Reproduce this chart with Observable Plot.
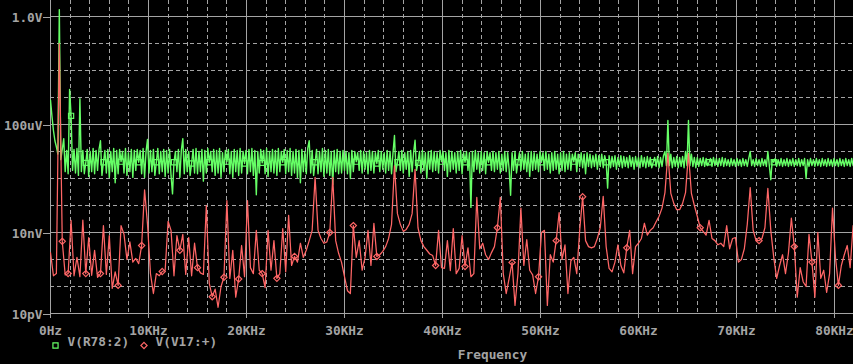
<!DOCTYPE html>
<html><head><meta charset="utf-8">
<script src="https://cdn.jsdelivr.net/npm/d3@7"></script>
<script src="https://cdn.jsdelivr.net/npm/@observablehq/plot@0.6"></script>
<style>
html,body{margin:0;padding:0;background:#000;overflow:hidden}
svg{display:block}
</style></head><body><div id="chart"></div>
<script>
// FFT bins of V(R78:2) (kHz)
const freqR78 = [
0,0.15,0.3,0.45,0.6,0.75,0.9,1.05,1.2,1.35,1.5,1.65,1.8,1.95,2.1,2.25,2.4,2.55,2.7,2.85,
3,3.15,3.3,3.45,3.6,3.75,3.9,4.05,4.2,4.35,4.5,4.65,4.8,4.95,5.1,5.25,5.4,5.55,5.7,5.85,
6,6.15,6.3,6.45,6.6,6.75,6.9,7.05,7.2,7.35,7.5,7.65,7.8,7.95,8.1,8.25,8.4,8.55,8.7,8.85,
9,9.15,9.3,9.45,9.6,9.75,9.9,10.05,10.2,10.35,10.5,10.65,10.8,10.95,11.1,11.25,11.4,11.55,11.7,11.85,
12,12.15,12.3,12.45,12.6,12.75,12.9,13.05,13.2,13.35,13.5,13.65,13.8,13.95,14.1,14.25,14.4,14.55,14.7,14.85,
15,15.15,15.3,15.45,15.6,15.75,15.9,16.05,16.2,16.35,16.5,16.65,16.8,16.95,17.1,17.25,17.4,17.55,17.7,17.85,
18,18.15,18.3,18.45,18.6,18.75,18.9,19.05,19.2,19.35,19.5,19.65,19.8,19.95,20.1,20.25,20.4,20.55,20.7,20.85,
21,21.15,21.3,21.45,21.6,21.75,21.9,22.05,22.2,22.35,22.5,22.65,22.8,22.95,23.1,23.25,23.4,23.55,23.7,23.85,
24,24.15,24.3,24.45,24.6,24.75,24.9,25.05,25.2,25.35,25.5,25.65,25.8,25.95,26.1,26.25,26.4,26.55,26.7,26.85,
27,27.15,27.3,27.45,27.6,27.75,27.9,28.05,28.2,28.35,28.5,28.65,28.8,28.95,29.1,29.25,29.4,29.55,29.7,29.85,
30,30.15,30.3,30.45,30.6,30.75,30.9,31.05,31.2,31.35,31.5,31.65,31.8,31.95,32.1,32.25,32.4,32.55,32.7,32.85,
33,33.15,33.3,33.45,33.6,33.75,33.9,34.05,34.2,34.35,34.5,34.65,34.8,34.95,35.1,35.25,35.4,35.55,35.7,35.85,
36,36.15,36.3,36.45,36.6,36.75,36.9,37.05,37.2,37.35,37.5,37.65,37.8,37.95,38.1,38.25,38.4,38.55,38.7,38.85,
39,39.15,39.3,39.45,39.6,39.75,39.9,40.05,40.2,40.35,40.5,40.65,40.8,40.95,41.1,41.25,41.4,41.55,41.7,41.85,
42,42.15,42.3,42.45,42.6,42.75,42.9,43.05,43.2,43.35,43.5,43.65,43.8,43.95,44.1,44.25,44.4,44.55,44.7,44.85,
45,45.15,45.3,45.45,45.6,45.75,45.9,46.05,46.2,46.35,46.5,46.65,46.8,46.95,47.1,47.25,47.4,47.55,47.7,47.85,
48,48.15,48.3,48.45,48.6,48.75,48.9,49.05,49.2,49.35,49.5,49.65,49.8,49.95,50.1,50.25,50.4,50.55,50.7,50.85,
51,51.15,51.3,51.45,51.6,51.75,51.9,52.05,52.2,52.35,52.5,52.65,52.8,52.95,53.1,53.25,53.4,53.55,53.7,53.85,
54,54.15,54.3,54.45,54.6,54.75,54.9,55.05,55.2,55.35,55.5,55.65,55.8,55.95,56.1,56.25,56.4,56.55,56.7,56.85,
57,57.15,57.3,57.45,57.6,57.75,57.9,58.05,58.2,58.35,58.5,58.65,58.8,58.95,59.1,59.25,59.4,59.55,59.7,59.85,
60,60.15,60.3,60.45,60.6,60.75,60.9,61.05,61.2,61.35,61.5,61.65,61.8,61.95,62.1,62.25,62.4,62.55,62.7,62.85,
63,63.15,63.3,63.45,63.6,63.75,63.9,64.05,64.2,64.35,64.5,64.65,64.8,64.95,65.1,65.25,65.4,65.55,65.7,65.85,
66,66.15,66.3,66.45,66.6,66.75,66.9,67.05,67.2,67.35,67.5,67.65,67.8,67.95,68.1,68.25,68.4,68.55,68.7,68.85,
69,69.15,69.3,69.45,69.6,69.75,69.9,70.05,70.2,70.35,70.5,70.65,70.8,70.95,71.1,71.25,71.4,71.55,71.7,71.85,
72,72.15,72.3,72.45,72.6,72.75,72.9,73.05,73.2,73.35,73.5,73.65,73.8,73.95,74.1,74.25,74.4,74.55,74.7,74.85,
75,75.15,75.3,75.45,75.6,75.75,75.9,76.05,76.2,76.35,76.5,76.65,76.8,76.95,77.1,77.25,77.4,77.55,77.7,77.85,
78,78.15,78.3,78.45,78.6,78.75,78.9,79.05,79.2,79.35,79.5,79.65,79.8,79.95,80.1,80.25,80.4,80.55,80.7,80.85,
81,81.15,81.3,81.45,81.6,81.75,81.9];

// V(R78:2) in volts
const vR78 = [
8e-4,2e-4,6e-5,2.5e-5,1.5e-5,8e-6,1.8,5e-6,1.2e-5,3e-5,1.8e-6,1.1e-5,1.5e-6,2e-3,2.1e-4,2e-6,1.2e-5,1.6e-6,1.3e-5,1.3e-6,
9e-4,1.8e-6,1.1e-5,1.5e-6,3.8e-6,1.2e-5,1.2e-6,1e-5,1.8e-6,1.3e-5,1.5e-6,1.1e-5,2e-6,1.2e-5,2.5e-5,1.3e-6,4e-6,1.1e-5,1.6e-6,1.2e-5,
1.1e-6,1e-5,1.8e-6,1.3e-5,7e-7,1.1e-5,1.5e-6,1.2e-5,4.2e-6,1e-5,1.6e-6,1.3e-5,1.3e-6,9e-6,1.8e-6,1.2e-5,1.1e-6,1.1e-5,2e-6,1.2e-5,
4e-6,1.1e-5,1.5e-6,1.3e-5,1.1e-6,1e-5,2.8e-5,1.6e-6,1.1e-5,1.8e-6,1.2e-5,1.3e-6,4e-6,1.3e-5,1.5e-6,1e-5,1.8e-6,1.2e-5,1.2e-6,1.1e-5,
1.6e-6,1.2e-5,1.3e-6,2.7e-7,4e-6,1e-5,1.8e-6,1.2e-5,1.1e-6,1.1e-5,3e-5,1.5e-6,1.2e-5,1.8e-6,1e-5,1.3e-6,3.6e-6,1.2e-5,1.6e-6,1.3e-5,
1.5e-6,1e-5,1.8e-6,1.2e-5,8e-7,1.1e-5,1.6e-6,1.3e-5,4e-6,1e-5,1.8e-6,1.2e-5,1.3e-6,1.1e-5,1.6e-6,1.3e-5,1.1e-6,9e-6,1.8e-6,1.1e-5,
4.2e-6,1.2e-5,1.5e-6,1e-5,1.1e-6,1.2e-5,1.8e-6,1.1e-5,1.3e-6,1.3e-5,1.6e-6,1e-5,3.6e-6,1.1e-5,1.5e-6,1.2e-5,1.8e-6,1.3e-5,1.3e-6,1.1e-5,
2.5e-7,1e-5,1.6e-6,1.2e-5,3.8e-6,1.1e-5,1.5e-6,1.3e-5,1.2e-6,1e-5,1.8e-6,1.2e-5,1.6e-6,1.1e-5,1.3e-6,1.3e-5,1.8e-6,1e-5,4e-6,1.2e-5,
1.5e-6,1.1e-5,1.8e-6,1.3e-5,1.3e-6,1e-5,1.6e-6,1.2e-5,1.1e-6,1.1e-5,7e-7,1.2e-5,1.8e-6,1e-5,1.5e-6,1.3e-5,2.5e-5,1.6e-6,1.1e-5,1.3e-6,
4e-6,1.2e-5,1.5e-6,1e-5,1.8e-6,1.3e-5,1.2e-6,1.1e-5,1.6e-6,1.2e-5,1.3e-6,1e-5,6e-7,1.1e-5,1.8e-6,1.2e-5,1.5e-6,1e-5,1.6e-6,1.1e-5,
2e-6,1e-5,1.5e-6,9e-6,1e-6,1.1e-5,1.8e-6,1e-5,4.2e-6,9e-6,2e-6,1.1e-5,1.6e-6,1e-5,2.2e-6,9e-6,1.5e-6,1.1e-5,2e-6,1e-5,
1.6e-6,9e-6,3.6e-6,1.1e-5,1.8e-6,1e-5,2.2e-6,9e-6,1.6e-6,1.1e-5,2e-6,1e-5,1.5e-6,9e-6,3.9e-5,1.8e-6,4e-6,1e-5,2e-6,1.1e-5,
1.6e-6,9e-6,2.2e-6,1e-5,1.2e-6,1.1e-5,1.8e-6,9e-6,2.6e-5,2e-6,3.8e-6,1e-5,1.6e-6,1.1e-5,2e-6,9e-6,1e-6,1e-5,2.2e-6,1.1e-5,
1.8e-6,1e-5,2e-6,9e-6,1.6e-6,1.1e-5,4.2e-6,1e-5,2e-6,9e-6,1.2e-6,1.1e-5,1.8e-6,1e-5,2.2e-6,9e-6,1.6e-6,1e-5,2e-6,1.1e-5,
1.5e-6,9e-6,4e-6,1e-5,2e-6,9e-6,8.5e-8,1e-5,1.8e-6,1.1e-5,2.2e-6,9e-6,1.6e-6,1e-5,2e-6,9e-6,1.5e-6,1e-5,4e-6,9e-6,
2e-6,1e-5,1.8e-6,9e-6,2.2e-6,1e-5,1.6e-6,8e-6,2e-6,1e-5,1.8e-6,9e-6,2.2e-6,2.4e-7,9e-6,2e-6,1e-5,1.6e-6,4e-6,9e-6,
2e-6,1e-5,2.2e-6,8e-6,1.8e-6,9e-6,1.2e-6,1e-5,2e-6,9e-6,2.2e-6,8e-6,1.8e-6,1e-5,4e-6,9e-6,2e-6,1e-5,2.2e-6,8e-6,
1.6e-6,9e-6,2e-6,1e-5,2.2e-6,8e-6,1.5e-6,9e-6,2e-6,1e-5,1.8e-6,8e-6,2.2e-6,9e-6,2e-6,8e-6,4.2e-6,9e-6,1.8e-6,8e-6,
2.8e-6,9e-6,2.5e-6,8e-6,1.5e-6,9e-6,2.8e-6,8e-6,2.5e-6,7e-6,2.8e-6,8e-6,2.2e-6,7e-6,2.8e-6,8e-6,2.5e-6,7e-6,4e-6,4.4e-7,
7e-6,2.5e-6,6.5e-6,2.8e-6,7e-6,2.2e-6,6e-6,2.8e-6,7e-6,2.5e-6,6.5e-6,2.8e-6,6e-6,2.5e-6,7e-6,2.8e-6,6e-6,2.2e-6,6.5e-6,2.8e-6,
6e-6,2.5e-6,7e-6,2.8e-6,6e-6,2.5e-6,6.5e-6,2.8e-6,6e-6,2.5e-6,4e-6,6e-6,2.8e-6,6.5e-6,2.5e-6,6e-6,2.8e-6,7e-6,1e-5,3e-6,
1.4e-4,3e-6,8e-6,2.5e-6,6e-6,2.8e-6,6.5e-6,2.5e-6,6e-6,2.8e-6,6.5e-6,2.5e-6,1e-5,3e-6,1.4e-4,3e-6,8e-6,2.8e-6,6e-6,2.5e-6,
6e-6,2.8e-6,5.5e-6,3e-6,6e-6,2.8e-6,5.5e-6,3e-6,4e-6,5.5e-6,2.8e-6,6e-6,3e-6,5.5e-6,2.8e-6,5.5e-6,3e-6,6e-6,2.8e-6,5.5e-6,
3e-6,5e-6,2.8e-6,5.5e-6,3e-6,5e-6,2.8e-6,5.5e-6,3e-6,5e-6,2.8e-6,5.5e-6,3e-6,5e-6,2.8e-6,5.5e-6,1e-5,3e-6,5e-6,2.8e-6,
5.5e-6,3e-6,5e-6,2.8e-6,5.5e-6,3e-6,5e-6,2.8e-6,1e-5,3e-6,9e-7,5e-6,4e-6,5.5e-6,2.8e-6,5e-6,3e-6,5.5e-6,2.8e-6,5e-6,
3e-6,5.5e-6,2.8e-6,5e-6,3e-6,5.5e-6,2.8e-6,5e-6,3e-6,5.5e-6,2.8e-6,5e-6,3e-6,5.5e-6,1e-6,5e-6,2.8e-6,5.5e-6,3e-6,5e-6,
2.8e-6,5.5e-6,3e-6,5e-6,2.8e-6,5.5e-6,3e-6,5e-6,2.8e-6,5.5e-6,3e-6,5e-6,2.8e-6,5.5e-6,3e-6,5e-6,2.8e-6,5.5e-6,3e-6,5e-6,
2.8e-6,5.5e-6,3e-6,5e-6,2.8e-6,5.5e-6,3e-6];

// FFT bins of V(V17:+) (kHz)
const freqV17 = [
0,0.3,0.6,0.9,1.2,1.5,1.8,2.1,2.4,2.7,
3,3.3,3.6,3.9,4.2,4.5,4.8,5.1,5.4,5.7,
6,6.3,6.6,6.9,7.2,7.5,7.8,8.1,8.4,8.7,
9,9.3,9.6,9.9,10.2,10.5,10.8,11.1,11.4,11.7,
12,12.3,12.6,12.9,13.2,13.5,13.8,14.1,14.4,14.7,
15,15.3,15.6,15.9,16.2,16.5,16.8,17.1,17.4,17.7,
18,18.3,18.6,18.9,19.2,19.5,19.8,20.1,20.4,20.7,
21,21.3,21.6,21.9,22.2,22.5,22.8,23.1,23.4,23.7,
24,24.3,24.6,24.9,25.2,25.5,25.8,26.1,26.4,26.7,
27,27.3,27.6,27.9,28.2,28.5,28.8,29.1,29.4,29.7,
30,30.3,30.6,30.9,31.2,31.5,31.8,32.1,32.4,32.7,
33,33.3,33.6,33.9,34.2,34.5,34.8,35.1,35.4,35.7,
36,36.3,36.6,36.9,37.2,37.5,37.8,38.1,38.4,38.7,
39,39.3,39.6,39.9,40.2,40.5,40.8,41.1,41.4,41.7,
42,42.3,42.6,42.9,43.2,43.5,43.8,44.1,44.4,44.7,
45,45.3,45.6,45.9,46.2,46.5,46.8,47.1,47.4,47.7,
48,48.3,48.6,48.9,49.2,49.5,49.8,50.1,50.4,50.7,
51,51.3,51.6,51.9,52.2,52.5,52.8,53.1,53.4,53.7,
54,54.3,54.6,54.9,55.2,55.5,55.8,56.1,56.4,56.7,
57,57.3,57.6,57.9,58.2,58.5,58.8,59.1,59.4,59.7,
60,60.3,60.6,60.9,61.2,61.5,61.8,62.1,62.4,62.7,
63,63.3,63.6,63.9,64.2,64.5,64.8,65.1,65.4,65.7,
66,66.3,66.6,66.9,67.2,67.5,67.8,68.1,68.4,68.7,
69,69.3,69.6,69.9,70.2,70.5,70.8,71.1,71.4,71.7,
72,72.3,72.6,72.9,73.2,73.5,73.8,74.1,74.4,74.7,
75,75.3,75.6,75.9,76.2,76.5,76.8,77.1,77.4,77.7,
78,78.3,78.6,78.9,79.2,79.5,79.8,80.1,80.4,80.7,
81,81.3,81.6,81.9];

// V(V17:+) in volts
const vV17 = [
1.8e-9,2.5e-10,3e-10,1e-1,4.7e-9,2.7e-10,3e-10,2.8e-8,2.5e-10,1.2e-9,
2.3e-10,2.9e-8,3e-10,6.5e-9,2.6e-10,2.2e-9,2.2e-10,3e-10,1.8e-8,2.8e-10,
7.7e-9,8.5e-11,3.5e-10,1.1e-10,1.8e-8,8.5e-9,1e-9,4.5e-9,8e-10,1.1e-9,
7e-10,3.3e-9,3.8e-7,2e-8,3e-10,5.5e-11,3e-10,2.5e-10,3.6e-10,4e-10,
2.6e-8,1.2e-8,2.5e-10,7.7e-9,2.2e-9,8.5e-9,2.8e-10,6.5e-9,2.5e-10,4e-9,
5e-10,3.2e-10,2.8e-10,1e-7,1.3e-10,4.2e-11,8e-11,1.7e-11,1e-10,2.2e-10,
1.5e-7,2e-10,2.2e-9,4e-11,1.9e-10,3.3e-9,2.3e-10,1.5e-7,5e-10,3e-10,
1.2e-8,4e-10,3e-10,9e-11,1.2e-8,4e-10,5e-9,2e-10,3e-10,1.4e-8,
3.5e-10,4.3e-8,6e-10,1.3e-9,8e-10,4e-9,1.2e-9,2.2e-9,5e-9,1.2e-8,
1.1e-6,1.2e-8,6e-9,4e-9,4.5e-9,1e-8,1.1e-6,5e-9,1.7e-9,7.8e-10,
2.3e-10,7e-11,5.5e-11,1.8e-8,1.2e-9,5e-9,4e-10,1.2e-9,1.2e-8,6e-10,
2.2e-8,1.3e-9,1.5e-9,2e-9,3e-9,6e-9,2e-8,3e-6,5e-8,2e-8,
1.1e-8,1.3e-8,2e-8,5e-8,2.2e-6,1.5e-8,5e-9,3e-9,2.2e-9,1.6e-9,
1.4e-9,6e-10,1.2e-8,5e-10,4.7e-10,5e-9,3.9e-10,1.4e-8,3e-10,4.7e-10,
7.7e-9,5.5e-10,2.7e-9,2.3e-10,3e-10,2e-7,2.5e-9,4e-9,1.5e-9,1e-9,
1.8e-9,3e-9,1.5e-8,2e-7,3e-10,5.5e-11,2e-10,7.8e-10,2e-11,3e-10,
8e-8,6e-10,5.5e-9,4e-10,2.7e-10,5.5e-11,2.3e-10,1e-8,1.2e-8,2e-11,
1.5e-9,8e-10,5e-9,5.5e-8,1e-9,3.5e-9,5.5e-11,9e-10,1.2e-9,3e-10,
1.2e-8,2.1e-7,5e-9,3e-9,2.7e-9,3e-9,6e-9,1.5e-8,2.2e-7,3e-9,
4.7e-10,3.5e-10,8e-10,3.5e-9,6e-10,3.2e-10,2.7e-9,1.2e-8,3e-10,3e-9,
4e-9,6e-9,2.2e-8,8e-9,1.2e-8,1.5e-8,2.5e-8,4e-8,8e-8,3e-7,
8.5e-6,2.8e-7,1.2e-7,7e-8,7e-8,1.2e-7,3e-7,8.5e-6,2.8e-7,1e-7,
4e-8,1.5e-8,1.1e-8,8e-9,2.8e-8,6e-9,5e-9,3.5e-9,4e-9,3e-9,
1.8e-8,2.5e-9,6e-9,6.5e-9,8e-10,1e-9,2.5e-9,2e-8,4.6e-7,1.2e-8,
5e-9,5e-9,6e-9,1.5e-8,4.3e-7,1.2e-8,1.2e-9,2e-10,6e-10,1.5e-9,
3e-10,1.7e-9,3.4e-8,3e-9,4e-11,5e-10,1.5e-10,1e-10,8.5e-9,8e-10,
4e-11,1e-8,2e-10,4e-10,6e-11,3e-10,8e-8,1.2e-9,1.1e-10,6e-10,
1.5e-9,3.3e-9,5e-10,1.8e-8];

// frequencies (kHz) where the trace markers sit
const markR78 = [2.1,3.6,5.4,7.2,9,10.8,12.6,14.4,16.2,18,19.8,21.6,23.7,27,31.2,33.3,35.4,37.5,39.9,42.3,44.7,47.7,50.1,53.4,56.7,61.5,67.2,73.8];
const markV17 = [1.2,1.8,3.6,5.1,6.9,9.3,11.4,13.2,15,16.5,17.7,19.2,21.6,23.1,24.9,28.5,30.9,33.3,39.3,42.3,45.6,47.1,49.8,51.6,54.3,58.8,66.3,72.3,75.9,77.7,80.4];

const seriesNames = ["V(R78:2)", "V(V17:+)"];
const xTicks = [0,10,20,30,40,50,60,70,80];
const xTickLabels = ["0Hz","10KHz","20KHz","30KHz","40KHz","50KHz","60KHz","70KHz","80KHz"];
const xMinor = [2,4,6,8,12,14,16,18,22,24,26,28,32,34,36,38,42,44,46,48,52,54,56,58,62,64,66,68,72,74,76,78];
const yTicks = [1,1e-4,1e-8,1e-11];
const yTickLabels = ["1.0V","100uV","10nV","10pV"];
const yMinor = [1e-1,1e-2,1e-3,1e-5,1e-6,1e-7,1e-9,1e-10];
const xTitle = "Frequency";

const GRID = "#a4a4a4";
const TEXT = "#a4a4a4";
const GREEN = "#66ff66";
const RED = "#ff6666";

const green = freqR78.map((f, i) => ({f, v: vR78[i]}));
const red = freqV17.map((f, i) => ({f, v: vV17[i]}));
const isMark = (list) => (d) => list.some(m => Math.abs(m - d.f) < 0.01);

const chart = Plot.plot({
  width: 853,
  height: 364,
  marginLeft: 50,
  marginRight: 0,
  marginTop: 0,
  marginBottom: 51,
  style: {background: "#000", color: TEXT, fontFamily: "DejaVu Sans Mono", fontSize: "12.8px", fontWeight: "bold"},
  x: {domain: [0, 81.94], axis: null},
  y: {type: "log", domain: [1e-11, 3.914], axis: null},
  marks: [
    Plot.ruleY(yMinor, {stroke: GRID, strokeDasharray: "4,3", shapeRendering: "crispEdges"}),
    Plot.ruleX(xMinor, {stroke: GRID, strokeDasharray: "4,3", shapeRendering: "crispEdges"}),
    Plot.ruleY(yTicks, {stroke: GRID, shapeRendering: "crispEdges"}),
    Plot.ruleX(xTicks, {stroke: GRID, shapeRendering: "crispEdges"}),
    Plot.axisY(yTicks, {tickSize: 7, tickPadding: 1, dy: 1, stroke: GRID, fill: TEXT,
      tickFormat: d => yTickLabels[yTicks.indexOf(d)], label: null}),
    Plot.axisX(xTicks, {tickSize: 5, tickPadding: 7, stroke: GRID, fill: TEXT,
      tickFormat: d => xTickLabels[xTicks.indexOf(d)], label: null}),
    Plot.line(green, {x: "f", y: "v", stroke: GREEN, strokeWidth: 1.4, clip: true}),
    Plot.line(red, {x: "f", y: "v", stroke: RED, strokeWidth: 1.25, clip: true}),
    Plot.dot(green.filter(isMark(markR78)), {x: "f", y: "v", symbol: "square", r: 2.9, stroke: GREEN, fill: "none", strokeWidth: 1.2}),
    Plot.dot(red.filter(isMark(markV17)), {x: "f", y: "v", symbol: "diamond2", r: 2.8, stroke: RED, fill: "none", strokeWidth: 1.2}),
    // legend
    Plot.dot([0], {frameAnchor: "bottom-left", dx: 5, dy: 32, symbol: "square", r: 2.9, stroke: GREEN, fill: "none", strokeWidth: 1.2}),
    Plot.text([seriesNames[0]], {frameAnchor: "bottom-left", dx: 17, dy: 32, textAnchor: "start", text: d => d, fill: TEXT}),
    Plot.dot([0], {frameAnchor: "bottom-left", dx: 93.5, dy: 32, symbol: "diamond2", r: 2.8, stroke: RED, fill: "none", strokeWidth: 1.2}),
    Plot.text([seriesNames[1]], {frameAnchor: "bottom-left", dx: 105, dy: 32, textAnchor: "start", text: d => d, fill: TEXT}),
    Plot.text([xTitle], {frameAnchor: "bottom", dx: 40.5, dy: 45, text: d => d, fill: TEXT})
  ]
});
document.getElementById("chart").appendChild(chart);
</script>
</body></html>
